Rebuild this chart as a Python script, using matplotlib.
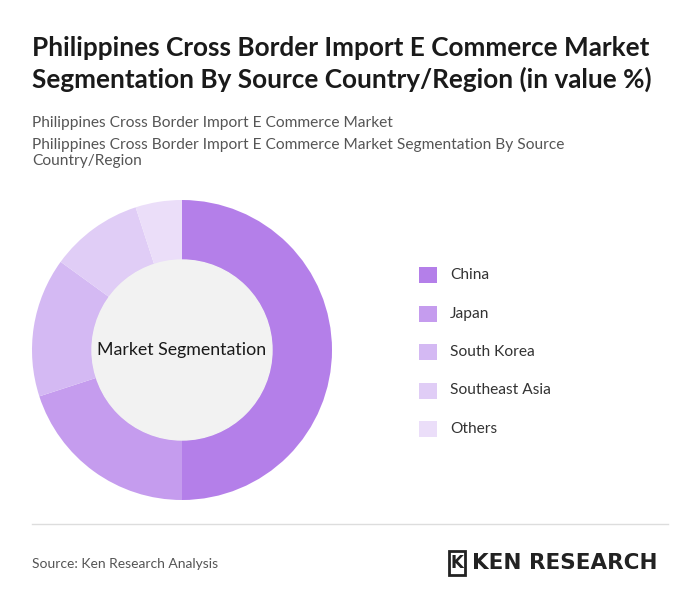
import matplotlib
matplotlib.use("Agg")
import matplotlib.pyplot as plt
from matplotlib.patches import Rectangle, Circle

categories = ["China", "Japan", "South Korea", "Southeast Asia", "Others"]
values = [50, 20, 15, 10, 5]
colors = ["#b47fe9", "#c59cee", "#d4b9f3", "#e0cdf6", "#ebdef9"]

W, H = 700, 610
fig = plt.figure(figsize=(7, 6.1), dpi=100)
fig.patch.set_facecolor("white")

def fx(x): return x / W
def fy(y): return 1 - y / H

fig.text(fx(32), fy(64), "Philippines Cross Border Import E Commerce Market\nSegmentation By Source Country/Region (in value %)",
         fontsize=18.8, fontweight="bold", color="#1a1a1a", va="center", ha="left",
         family="Lato", linespacing=1.3)
fig.text(fx(32), fy(123), "Philippines Cross Border Import E Commerce Market", fontsize=11.2,
         color="#555555", va="center", family="Lato")
fig.text(fx(32), fy(153), "Philippines Cross Border Import E Commerce Market Segmentation By Source\nCountry/Region",
         fontsize=11.2, color="#555555", va="center", family="Lato", linespacing=1.25)

cx, cy, r = 182, 350, 150
ax = fig.add_axes([fx(cx - r), fy(cy + r), 2 * r / W, 2 * r / H])
ax.pie(values, colors=colors, startangle=90, counterclock=False,
       wedgeprops=dict(width=0.4, linewidth=0), radius=1)
ax.add_patch(Circle((0, 0), 0.6, color="#f2f2f2", zorder=3))
ax.text(0, 0, "Market Segmentation", ha="center", va="center", fontsize=12.8,
        color="#1a1a1a", zorder=4, family="Lato")
ax.set_xlim(-1, 1); ax.set_ylim(-1, 1); ax.set_aspect("equal"); ax.axis("off")

for i, (c, col) in enumerate(zip(categories, colors)):
    y = 275 + i * 38.5
    fig.patches.append(Rectangle((fx(419), fy(y + 8)), 18 / W, 16 / H, transform=fig.transFigure,
                                 facecolor=col, edgecolor="none"))
    fig.text(fx(450), fy(y), c, fontsize=11.2, color="#333333", va="center", family="Lato")

fig.add_artist(plt.Line2D([fx(32), fx(668)], [fy(524), fy(524)], color="#dddddd", lw=1))
fig.text(fx(32), fy(564), "Source: Ken Research Analysis", fontsize=10, color="#555555",
         va="center", family="Lato")
fig.text(fx(472), fy(563), "KEN RESEARCH", fontsize=15.5, fontweight="bold", color="#222222",
         va="center", family="DejaVu Sans")
fig.patches.append(Rectangle((fx(449), fy(575)), 16 / W, 24 / H, transform=fig.transFigure,
                             facecolor="none", edgecolor="#222222", lw=2))
fig.text(fx(457), fy(563), "K", fontsize=12, fontweight="bold", color="#222222",
         va="center", ha="center")

fig.savefig("out.png", dpi=100, facecolor="white")
